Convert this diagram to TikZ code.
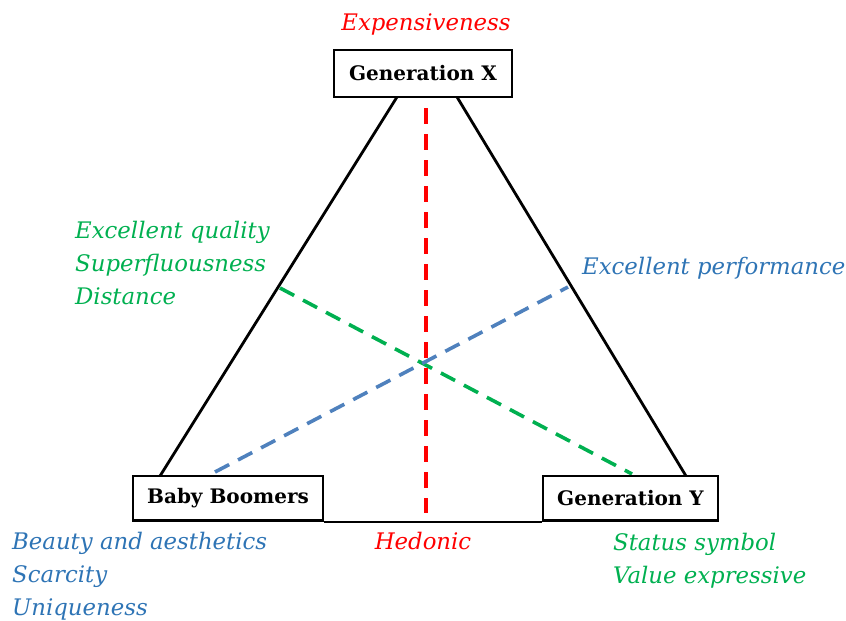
\documentclass[tikz,border=0pt]{standalone}
\usepackage{fontspec}
\setmainfont{DejaVu Serif}
\definecolor{lgreen}{HTML}{00B050}
\definecolor{lblue}{HTML}{2E74B5}
\definecolor{dblue}{HTML}{4F81BD}
\definecolor{lred}{HTML}{FF0000}
\tikzset{
  genbox/.style={draw=black, line width=2.8pt, fill=white, inner sep=0pt, font=\bfseries\fontsize{20}{24}\selectfont},
  side/.style={draw=black, line width=2.8pt},
  dline/.style={line width=3.6pt, dash pattern=on 16pt off 10pt},
  lab/.style={font=\itshape\fontsize{22.8}{26}\selectfont, inner sep=0pt},
}
\begin{document}
\begin{tikzpicture}[x=1pt,y=-1pt]
\useasboundingbox (0,0) rectangle (846,621);
% triangle corner points
\coordinate (tl) at (397,97);
\coordinate (tr) at (457,97);
\coordinate (bl) at (160,476);
\coordinate (br) at (686,476);
\draw[side] (tl) -- (bl);
\draw[side] (tr) -- (br);
% dashed lines
\coordinate (r1) at (426,108);
\coordinate (r2) at (426,513);
\coordinate (g1) at (280,288);
\coordinate (g2) at (632,474);
\coordinate (b1) at (215,472);
\coordinate (b2) at (568,287);
\draw[dline, draw=lred] (r1) -- (r2);
\draw[dline, draw=lgreen] (g1) -- (g2);
\draw[dline, draw=dblue] (b1) -- (b2);
% boxes
\node[genbox, minimum width=178pt, minimum height=47pt] (gx) at (423,73.5) {Generation X};
\node[genbox, minimum width=190pt, minimum height=44.5pt] (bb) at (228,498.25) {Baby Boomers};
\node[genbox, minimum width=175pt, minimum height=44.5pt] (gy) at (630.5,498.25) {Generation Y};
\draw[side] (bb.south east) -- (gy.south west);
% labels
\node[lab, text=lred, anchor=base] (exp) at (426,30) {Expensiveness};
\node[lab, text=lgreen, anchor=base west] (eq) at (75,238) {Excellent quality};
\node[lab, text=lgreen, anchor=base west] (sf) at (75,271) {Superfluousness};
\node[lab, text=lgreen, anchor=base west] (di) at (75,304) {Distance};
\node[lab, text=lblue, anchor=base west] (ep) at (582,274) {Excellent performance};
\node[lab, text=lblue, anchor=base west] (ba) at (12,549) {Beauty and aesthetics};
\node[lab, text=lblue, anchor=base west] (sc) at (12,582) {Scarcity};
\node[lab, text=lblue, anchor=base west] (un) at (12,615) {Uniqueness};
\node[lab, text=lred, anchor=base] (he) at (423,549) {Hedonic};
\node[lab, text=lgreen, anchor=base west] (ss) at (613,550) {Status symbol};
\node[lab, text=lgreen, anchor=base west] (ve) at (613,583) {Value expressive};
\end{tikzpicture}
\end{document}
